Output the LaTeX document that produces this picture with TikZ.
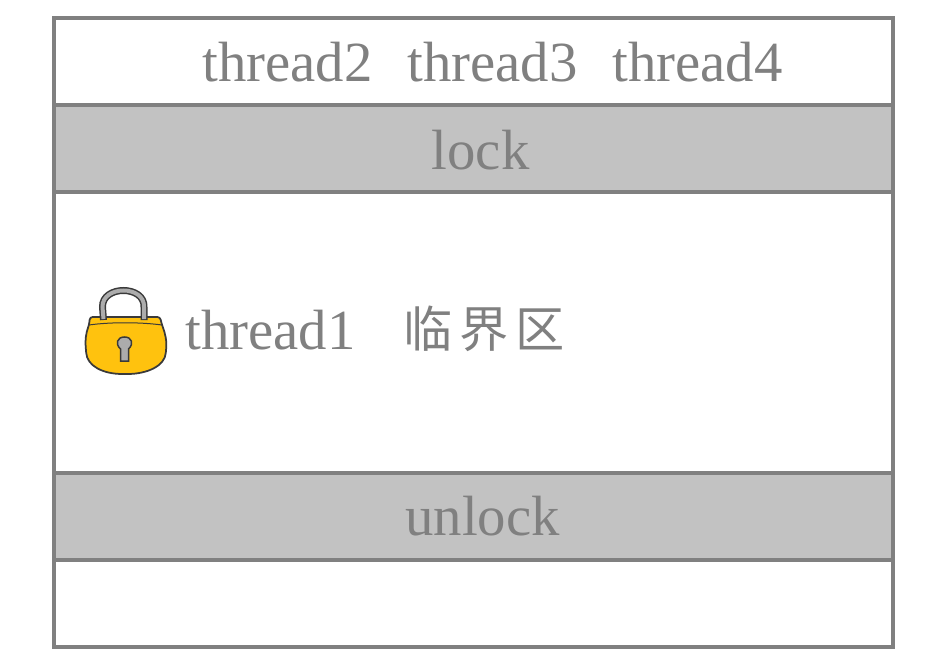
\documentclass[tikz,border=0pt]{standalone}
\usepackage{fontspec}
\setmainfont{Liberation Serif}
\newfontfamily\cjkfont{Noto Sans CJK SC}
\definecolor{rowgray}{HTML}{C2C2C2}
\definecolor{linegray}{HTML}{808080}
\definecolor{lockyellow}{HTML}{FFC20E}
\definecolor{lockdark}{HTML}{3A3A3A}
\tikzset{
  rowbox/.style={draw=linegray,line width=0.07cm,minimum width=16.78cm,minimum height=1.74cm,outer sep=0pt},
  shaded/.style={rowbox,fill=rowgray},
  label/.style={text=linegray,font=\fontsize{32.3}{36}\selectfont,inner sep=0pt},
}
\begin{document}
\begin{tikzpicture}[x=0.02cm,y=-0.02cm]
\useasboundingbox (0,0) rectangle (925,665);
\node[rowbox] (waiting) at (473.5,61.5) {};
\node[shaded] (lockrow) at (473.5,148.5) {};
\node[rowbox,minimum height=5.62cm] (critical) at (473.5,332.5) {};
\node[shaded] (unlockrow) at (473.5,516.5) {};
\node[rowbox] (freerow) at (473.5,603.5) {};
\node[label] (thread2) at (287.5,62) {thread2};
\node[label] (thread3) at (492.5,62) {thread3};
\node[label] (thread4) at (697.5,62) {thread4};
\node[label] (locktext) at (480.5,150) {lock};
\node[label] (unlocktext) at (482.5,516) {unlock};
\node[label] (thread1) at (270.5,330) {thread1};
\node[label,font=\cjkfont\fontsize{28}{32}\selectfont] (critname) at (484,329) {临\hspace{0.14em}界\hspace{0.14em}区};
% padlock
\draw[lockdark,fill=lockyellow,line width=0.035cm,rounded corners=1.5pt] (90,317) -- (160,317) -- (162,325) .. controls (165,333) and (167,341) .. (166,350)
  .. controls (165,366) and (147,374) .. (125,374) .. controls (103,374) and (87,366) .. (86,350)
  .. controls (85,341) and (86,333) .. (89,325) -- cycle;
\draw[lockdark,line width=0.02cm] (89,325) .. controls (110,322) and (140,322) .. (162,325);
\draw[lockdark,line width=0.14cm] (103.5,320) -- (102.5,307) .. controls (102,285) and (145,285) .. (144,307) -- (144,320);
\draw[gray!65,line width=0.08cm] (103.5,319) -- (102.5,307) .. controls (102,285) and (145,285) .. (144,307) -- (144,319);
\draw[lockdark,fill=gray!65,line width=0.03cm] (120.5,349) .. controls (115,344) and (117,337) .. (124.5,337)
  .. controls (132,337) and (134,344) .. (128.5,349) -- (128.5,361) -- (120.5,361) -- cycle;
\end{tikzpicture}
\end{document}
